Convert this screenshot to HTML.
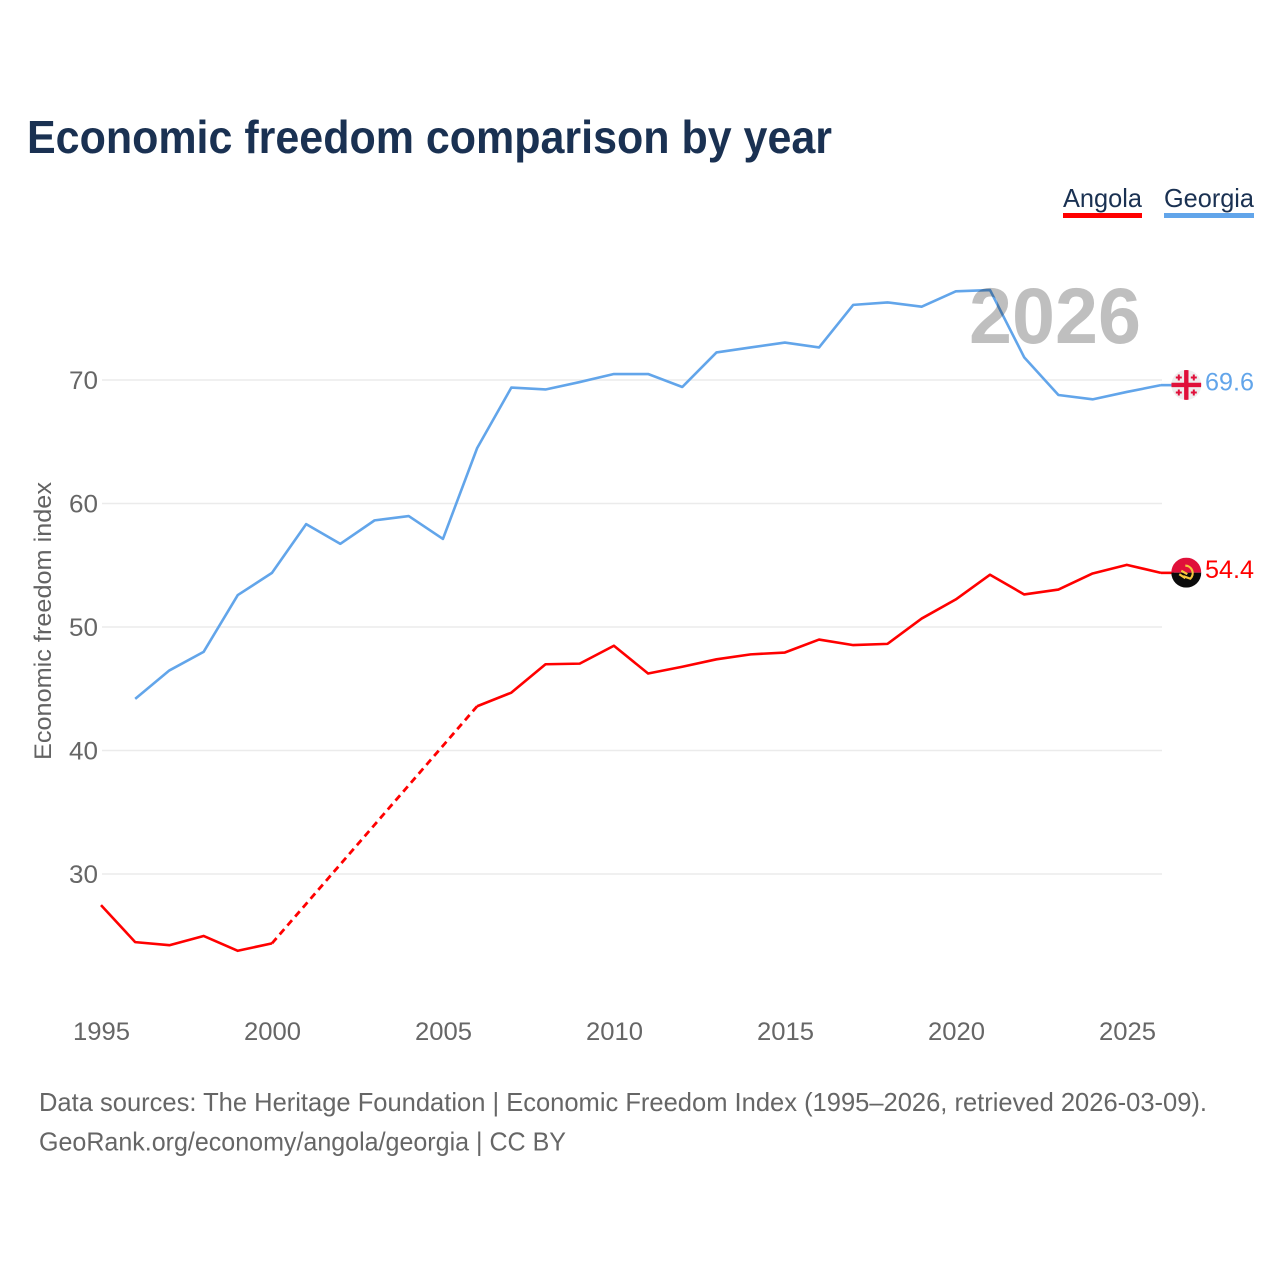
<!DOCTYPE html>
<html>
<head>
<meta charset="utf-8">
<title>Economic freedom comparison by year</title>
<style>
html,body{margin:0;padding:0;background:#fff;}
svg{display:block;font-family:"Liberation Sans",sans-serif;}
</style>
</head>
<body>
<svg id="chart" xmlns="http://www.w3.org/2000/svg" width="1280" height="1280" viewBox="0 0 1280 1280">
  <defs>
    <clipPath id="clip-ge"><circle cx="0" cy="0" r="15"/></clipPath>
    <clipPath id="clip-ao"><circle cx="0" cy="0" r="15"/></clipPath>
  </defs>
  <rect x="0" y="0" width="1280" height="1280" fill="#fff"/>
  <text x="27" y="153" font-size="46" font-weight="700" fill="#1a3152" textLength="805" lengthAdjust="spacingAndGlyphs">Economic freedom comparison by year</text>

  <g>
    <text x="1063" y="207" font-size="26" fill="#1a3152" textLength="79" lengthAdjust="spacingAndGlyphs">Angola</text>
    <rect x="1063" y="213" width="79" height="5" fill="#ff0000"/>
  </g>
  <g>
    <text x="1164" y="207" font-size="26" fill="#1a3152" textLength="90" lengthAdjust="spacingAndGlyphs">Georgia</text>
    <rect x="1164" y="213" width="90" height="5" fill="#62a5ea"/>
  </g>

  <text transform="translate(51,621) rotate(-90)" text-anchor="middle" font-size="24" fill="#636363" textLength="278" lengthAdjust="spacingAndGlyphs">Economic freedom index</text>

  <g id="grid"></g>
  <g id="y-ticks"></g>
  <g id="x-ticks"></g>
  <g id="series"></g>

  <text x="1141" y="343" text-anchor="end" font-size="79" font-weight="700" fill="#000" fill-opacity="0.25" textLength="172" lengthAdjust="spacingAndGlyphs">2026</text>

  <g id="flag-georgia">
    <g clip-path="url(#clip-ge)">
      <rect x="-15" y="-15" width="30" height="30" fill="#eeeeee"/>
      <rect x="-2.2" y="-15" width="4.4" height="30" fill="#e0103a"/>
      <rect x="-15" y="-2.2" width="30" height="4.4" fill="#e0103a"/>
      <path d="M-7.5-10.5v6M-10.5-7.5h6M7.5-10.5v6M4.5-7.5h6M-7.5 4.5v6M-10.5 7.5h6M7.5 4.5v6M4.5 7.5h6" stroke="#e0103a" stroke-width="2" fill="none"/>
    </g>
  </g>
  <g id="flag-angola">
    <g clip-path="url(#clip-ao)">
      <rect x="-15" y="-15" width="30" height="15" fill="#e0103a"/>
      <rect x="-15" y="0" width="30" height="15" fill="#0b0b0b"/>
      <path d="M-1-7 A7.5 7.5 0 0 1 4 6 L-3 3.5" stroke="#f6c63c" stroke-width="2.2" fill="none"/>
      <path d="M-7 1.5 L-1 5.5 M-5-2 L1 1.5" stroke="#f6c63c" stroke-width="2.2" fill="none"/>
    </g>
  </g>

  <g id="end-labels"></g>

  <text x="39" y="1111" font-size="26" fill="#666" textLength="1168" lengthAdjust="spacingAndGlyphs">Data sources: The Heritage Foundation | Economic Freedom Index (1995–2026, retrieved 2026-03-09).</text>
  <text x="39" y="1150.5" font-size="26" fill="#666" textLength="527" lengthAdjust="spacingAndGlyphs">GeoRank.org/economy/angola/georgia | CC BY</text>
</svg>
<script>
const years = [1995,1996,1997,1998,1999,2000,2001,2002,2003,2004,2005,2006,2007,2008,2009,2010,2011,2012,2013,2014,2015,2016,2017,2018,2019,2020,2021,2022,2023,2024,2025,2026];
const angolaValues = [27.5,24.5,24.25,25.0,23.8,24.4,null,null,null,null,null,43.6,44.7,47.0,47.05,48.5,46.25,46.8,47.4,47.8,47.95,49.0,48.55,48.65,50.7,52.25,54.25,52.65,53.05,54.35,55.05,54.4];
const georgiaValues = [null,44.2,46.5,48.0,52.6,54.4,58.35,56.75,58.65,59.0,57.15,64.5,69.4,69.25,69.85,70.5,70.5,69.45,72.25,72.65,73.05,72.65,76.1,76.3,75.95,77.2,77.3,71.85,68.8,68.45,69.05,69.6];
const yTickValues = [30,40,50,60,70];
const xTickValues = [1995,2000,2005,2010,2015,2020,2025];

const NS = 'http://www.w3.org/2000/svg';
function xScale(year){ return 101 + (year - 1995) * (1161 - 101) / 31; }
function yScale(value){ return 874 - (value - 30) * 12.35; }
function make(tag, attrs, parent){
  const el = document.createElementNS(NS, tag);
  for (const k in attrs) el.setAttribute(k, attrs[k]);
  parent.appendChild(el);
  return el;
}
function pointsOf(list){
  return list.map(function(p){ return xScale(p[0]).toFixed(2) + ',' + (yScale(p[1]) + 0.2).toFixed(2); }).join(' ');
}
function drawSeries(values, color, name, parent){
  let run = [];
  let prev = null;
  function flush(){
    if (run.length > 1) {
      const solid = make('polyline', {points: pointsOf(run), fill: 'none', stroke: color, 'stroke-width': 2.6, 'stroke-linejoin': 'round'}, parent);
      
      
    }
    run = [];
  }
  values.forEach(function(v, i){
    if (v === null) { flush(); return; }
    if (prev !== null && prev !== i - 1) {
      const gap = make('polyline', {points: pointsOf([[years[prev], values[prev]], [years[i], v]]), fill: 'none', stroke: color, 'stroke-width': 2.8, 'stroke-dasharray': '7 4.8'}, parent);
      
      
    }
    run.push([years[i], v]);
    prev = i;
  });
  flush();
}

const grid = document.getElementById('grid');
const yTicks = document.getElementById('y-ticks');
yTickValues.forEach(function(v){
  const line = make('line', {x1: 102, x2: 1162, y1: yScale(v), y2: yScale(v), stroke: '#ebebeb', 'stroke-width': 1.6}, grid);
  
  
  const label = make('text', {x: 98, y: yScale(v) + 9, 'text-anchor': 'end', 'font-size': 25, fill: '#666', textLength: 29, lengthAdjust: 'spacingAndGlyphs'}, yTicks);
  
  
  label.textContent = v;
});

const xTicks = document.getElementById('x-ticks');
xTickValues.forEach(function(v){
  const label = make('text', {x: 101.5 + (v - 1995) * 34.2, y: 1040, 'text-anchor': 'middle', 'font-size': 25, fill: '#666', textLength: 57, lengthAdjust: 'spacingAndGlyphs'}, xTicks);
  
  
  label.textContent = v;
});

const series = document.getElementById('series');
drawSeries(angolaValues, '#ff0000', 'angola', series);
drawSeries(georgiaValues, '#62a5ea', 'georgia', series);

const endLabels = document.getElementById('end-labels');
function drawEnd(values, color, flagId, name){
  const last = values[values.length - 1];
  const y = yScale(last);
  const connector = make('line', {x1: xScale(2026), x2: 1174, y1: y + 0.2, y2: y + 0.2, stroke: color, 'stroke-width': 2.6}, series);
  
  
  document.getElementById(flagId).setAttribute('transform', 'translate(1186.3,' + y.toFixed(2) + ')');
  const label = make('text', {x: 1254, y: y + 5.5, 'text-anchor': 'end', 'font-size': 25, fill: color, textLength: 49, lengthAdjust: 'spacingAndGlyphs'}, endLabels);
  
  
  label.textContent = last.toFixed(1);
}
drawEnd(angolaValues, '#ff0000', 'flag-angola', 'angola');
drawEnd(georgiaValues, '#62a5ea', 'flag-georgia', 'georgia');
</script>
</body>
</html>
